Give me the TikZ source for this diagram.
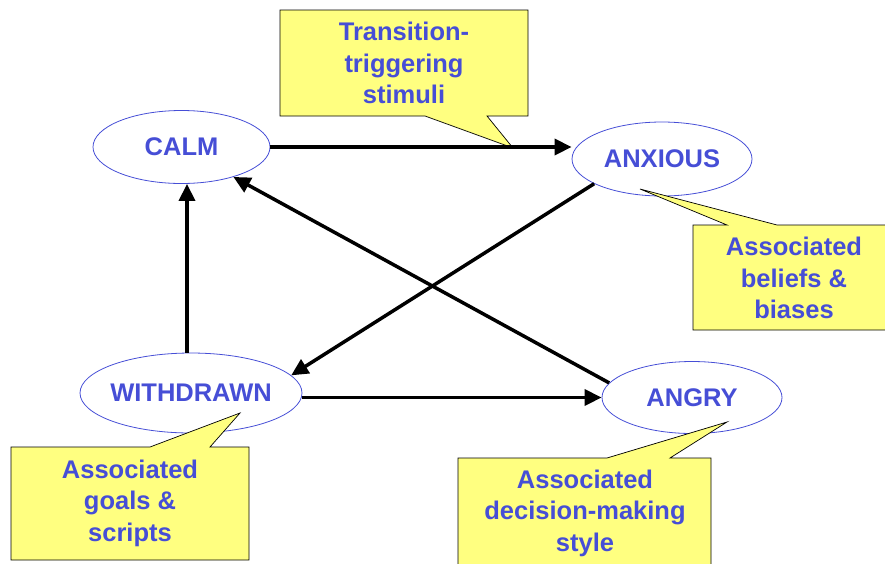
\documentclass[tikz,border=0pt]{standalone}
\usepackage{fontspec}
\setmainfont{Liberation Sans}
\usetikzlibrary{arrows.meta,shapes.geometric}
\definecolor{blu}{RGB}{70,78,214}
\definecolor{giallo}{RGB}{255,255,128}
\begin{document}
\begin{tikzpicture}[x=1pt,y=-1pt,
			stato/.style={ellipse, draw=blu, line width=0.8pt, text=blu, inner sep=0pt,
				font=\fontsize{25.5}{30}\selectfont\bfseries},
			freccia/.style={line width=3.5pt, black, -{Triangle[length=17pt,width=16pt]}},
			fumetto/.style={fill=giallo, draw=black, line width=0.7pt, line join=miter},
			testo/.style={text=blu, align=center, font=\fontsize{25.5}{31.5}\selectfont\bfseries},
			]
			\useasboundingbox (0,0) rectangle (885,563);
			
			%% ── stati ──────────────────────────────────────────────
			\node[stato, minimum width=177pt, minimum height=73pt] (calm) at (181.5,147) {CALM};
			\node[stato, minimum width=180pt, minimum height=74pt] (anxious) at (662,159) {ANXIOUS};
			\node[stato, inner xsep=-8pt, minimum width=222pt, minimum height=80pt] (withdrawn) at (191,393) {WITHDRAWN};
			\node[stato, minimum width=180pt, minimum height=72pt] (angry) at (692,397.5) {ANGRY};
			
			%% ── fumetti ────────────────────────────────────────────
			\draw[fumetto](280,10)--(528,10)--(528,116)--(487,116)--(513,148)--(425,116)--(280,116)--cycle;
			\draw[fumetto](693,225)--(727,225)--(640,189)--(777,225)--(890,225)--(890,330)--(693,330)--cycle;
			\draw[fumetto](11,447)--(150,447)--(240,413)--(210,447)--(249,447)--(249,560)--(11,560)--cycle;
			\draw[fumetto](458,458)--(607,458)--(727,422)--(670,458)--(711,458)--(711,568)--(458,568)--cycle;
			\node[testo] (stimuli) at (404,63) {Transition-\\triggering\\stimuli};
			\node[testo] (beliefs) at (794,278) {Associated\\beliefs \&\\biases};
			\node[testo] (goals) at (130,503) {Associated\\goals \&\\scripts};
			\node[testo] (stile) at (585,513) {Associated\\decision-making\\style};
			
			%% ── transizioni ────────────────────────────────────────
			\draw[freccia](calm.east)--(calm.east -| anxious.west);
			\draw[freccia](anxious.200)--(withdrawn.10);
			\draw[freccia](angry.170)--(calm.-30);
			\draw[freccia]([xshift=-4pt]withdrawn.north)--([xshift=-4pt]withdrawn.north |- calm.south);
			\draw[freccia](withdrawn.east |- angry.west)--(angry.west);
			
\end{tikzpicture}
\end{document}
